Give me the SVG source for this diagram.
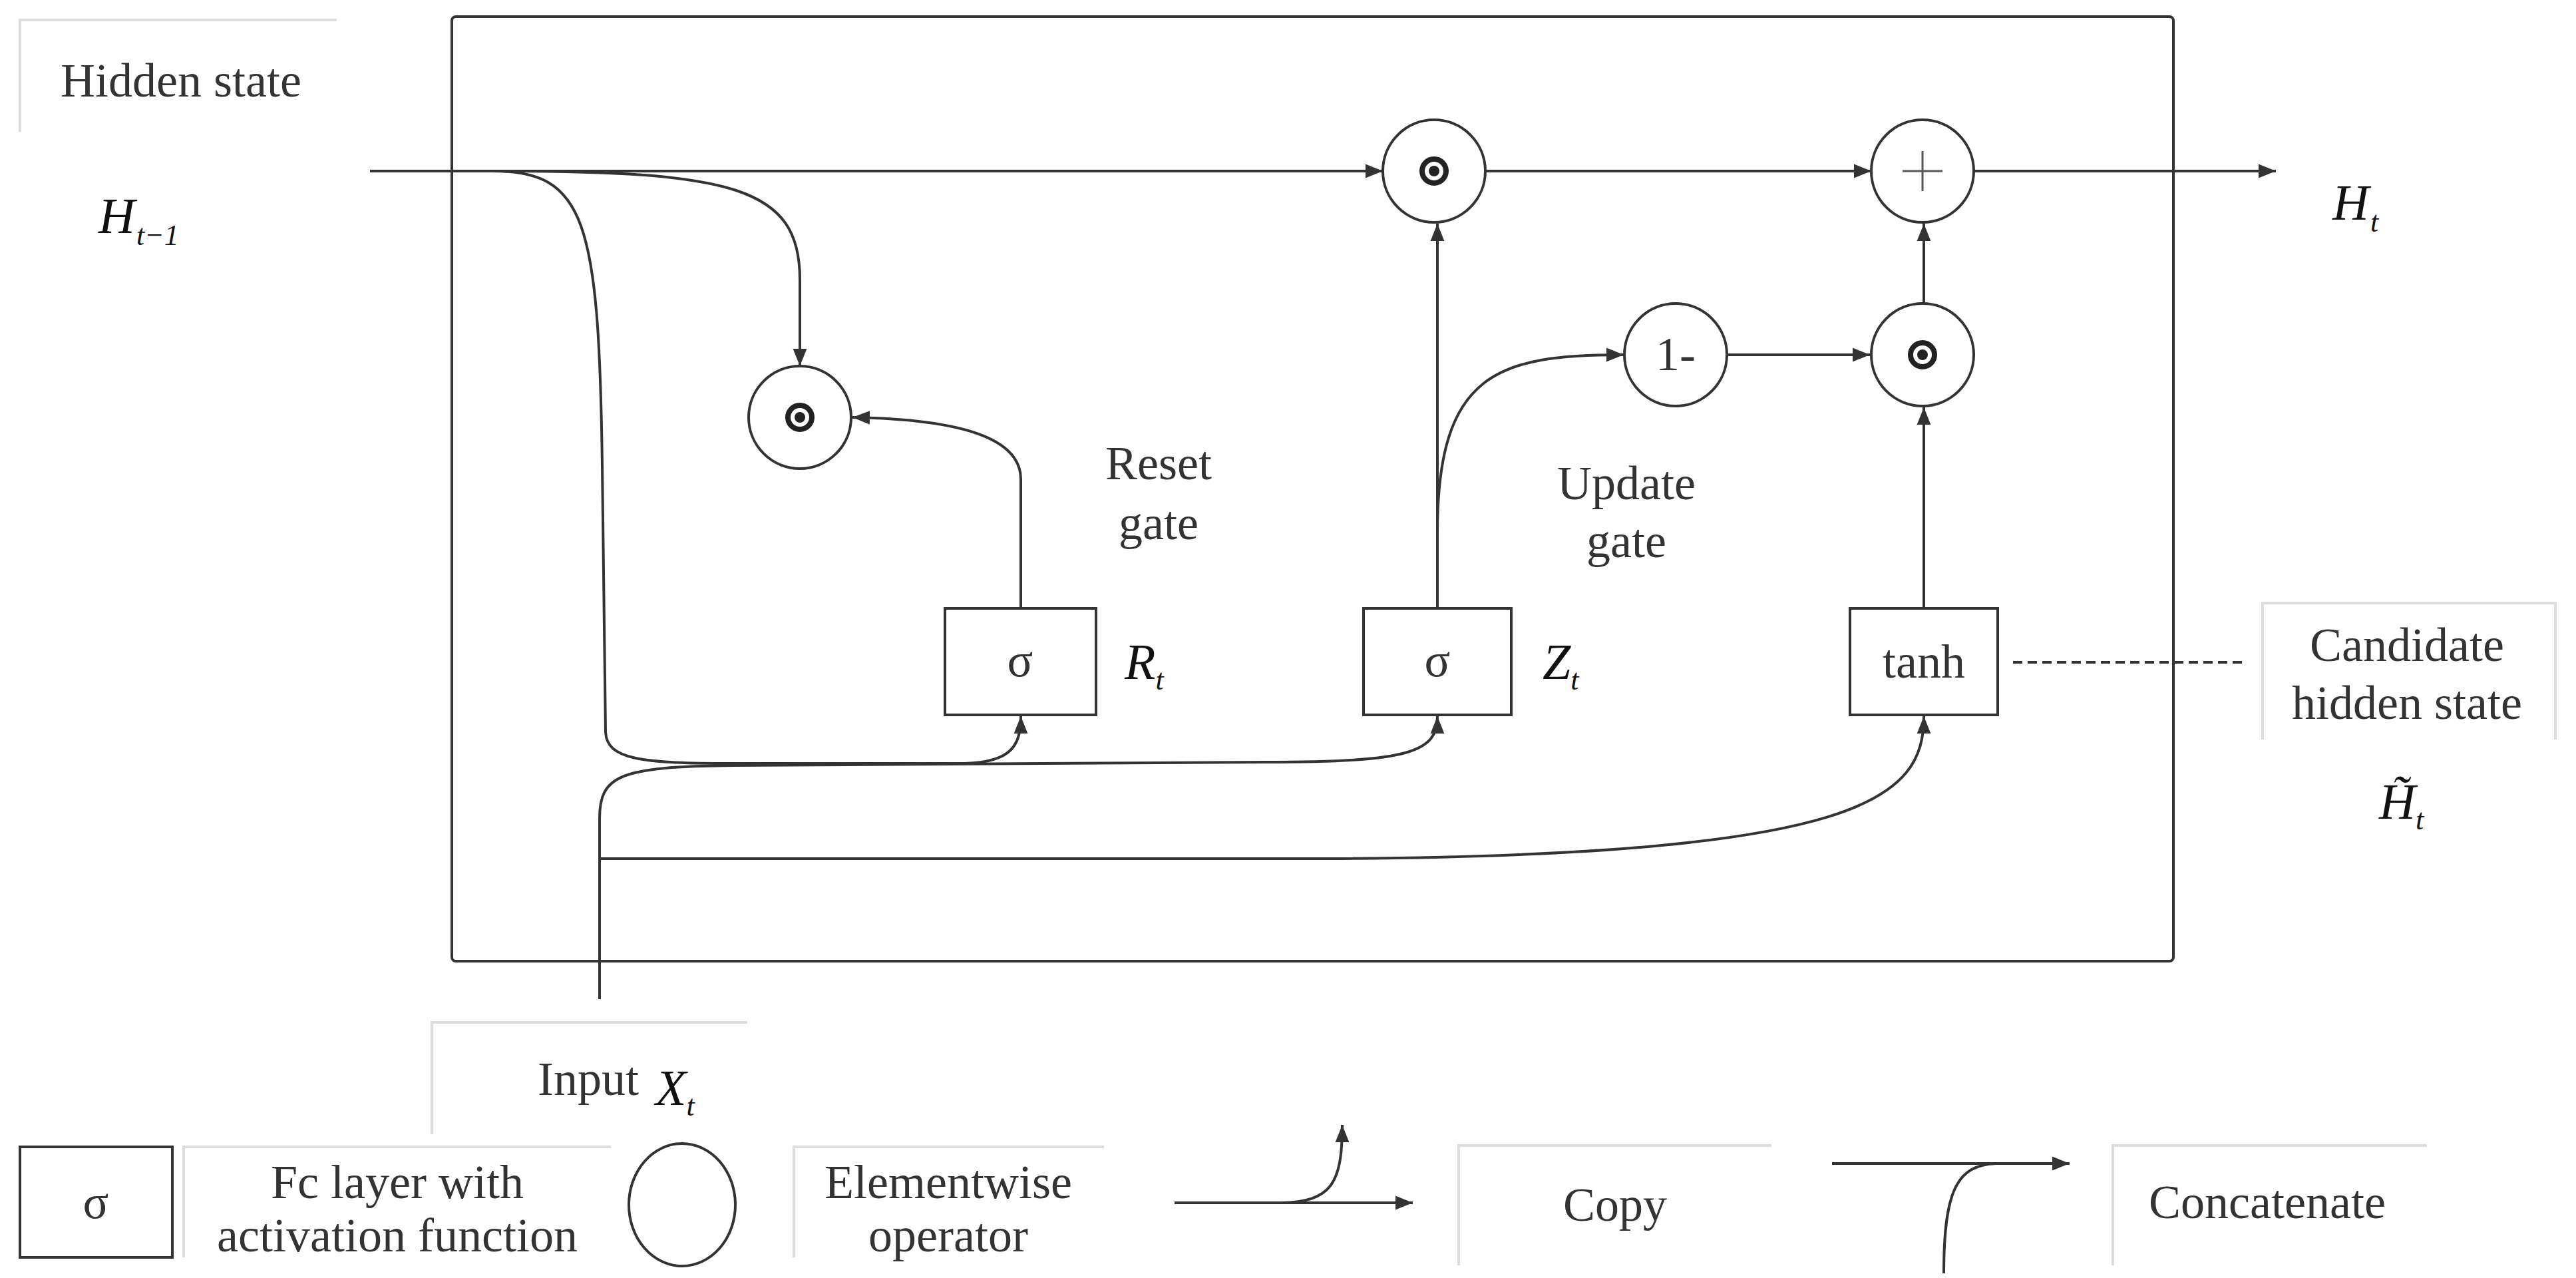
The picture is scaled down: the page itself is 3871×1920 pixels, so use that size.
<svg xmlns="http://www.w3.org/2000/svg" width="3871" height="1920" viewBox="0 0 3871 1920">
<style>
.t{font-family:"Liberation Serif",serif;font-size:72px;fill:#333;text-anchor:middle}
.m{font-family:"Liberation Serif",serif;font-style:italic;font-size:76px;fill:#111}
.s{font-size:44px}
.ln{fill:none;stroke:#333;stroke-width:4}
.nd{fill:#fff;stroke:#333;stroke-width:4}
.lb{fill:none;stroke:#ddd;stroke-width:4}
</style>
<defs>
<marker id="A" viewBox="0 0 10 10" refX="10" refY="5" markerWidth="26" markerHeight="26" markerUnits="userSpaceOnUse" orient="auto"><path d="M0,1 L10,5 L0,9 z" fill="#333"/></marker>
</defs>
<rect x="679" y="25" width="2587" height="1419" rx="6" fill="none" stroke="#333" stroke-width="4"/>
<g id="connectors">
<path class="ln" d="M556,257 H2078" marker-end="url(#A)"/>
<path class="ln" d="M2232,257 H2812" marker-end="url(#A)"/>
<path class="ln" d="M2966,257 H3420" marker-end="url(#A)"/>
<path class="ln" d="M740,257 C1100,257 1202,280 1202,420 V550" marker-end="url(#A)"/>
<path class="ln" d="M740,257 C880,257 900,330 905,700 L910,1100 C912,1140 960,1147 1100,1147 L1450,1147 C1520,1145 1534,1120 1534,1076" marker-end="url(#A)"/>
<path class="ln" d="M901,1501 V1230 C901,1165 930,1152 1100,1150 L1900,1145 C2120,1145 2160,1130 2160,1076" marker-end="url(#A)"/>
<path class="ln" d="M901,1290 L2000,1290 C2800,1285 2891,1200 2891,1076" marker-end="url(#A)"/>
<path class="ln" d="M2160,914 V336" marker-end="url(#A)"/>
<path class="ln" d="M2160,800 C2160,560 2250,533 2440,533" marker-end="url(#A)"/>
<path class="ln" d="M2595,533 H2810" marker-end="url(#A)"/>
<path class="ln" d="M2891,914 V612" marker-end="url(#A)"/>
<path class="ln" d="M2891,456 V336" marker-end="url(#A)"/>
<path class="ln" d="M1534,914 V720 C1534,660 1450,630 1281,627" marker-end="url(#A)"/>
<path d="M3025,995 H3370" fill="none" stroke="#333" stroke-width="4" stroke-dasharray="14,8"/>
</g>
<g id="hidden-label"><path class="lb" d="M30,198 V30 H506"/><text class="t" x="272" y="145">Hidden state</text></g>
<g id="h-prev"><text class="m" x="148" y="350">H<tspan class="s" dx="2" dy="18">t−1</tspan></text></g>
<g id="h-out"><text class="m" x="3505" y="330">H<tspan class="s" dx="2" dy="18">t</tspan></text></g>
<g id="mul-top"><circle class="nd" cx="2155" cy="257" r="77"/><circle cx="2155" cy="257" r="18" fill="none" stroke="#222" stroke-width="8"/><circle cx="2155" cy="257" r="8" fill="#222"/></g>
<g id="plus"><circle class="nd" cx="2889" cy="257" r="77"/><path d="M2889,227 V287 M2859,257 H2919" stroke="#555" stroke-width="3"/></g>
<g id="one-minus"><circle class="nd" cx="2518" cy="533" r="77"/><text class="t" x="2518" y="556" font-size="64">1-</text></g>
<g id="mul-mid"><circle class="nd" cx="2889" cy="533" r="77"/><circle cx="2889" cy="533" r="18" fill="none" stroke="#222" stroke-width="8"/><circle cx="2889" cy="533" r="8" fill="#222"/></g>
<g id="mul-reset"><circle class="nd" cx="1202" cy="627" r="77"/><circle cx="1202" cy="627" r="18" fill="none" stroke="#222" stroke-width="8"/><circle cx="1202" cy="627" r="8" fill="#222"/></g>
<g id="reset-gate"><rect class="nd" x="1420" y="914" width="227" height="160"/><text class="t" x="1533" y="1016" font-size="64">σ</text><text class="m" x="1690" y="1020" font-size="64">R<tspan class="s" dy="16">t</tspan></text><text class="t" x="1741" y="720">Reset</text><text class="t" x="1741" y="810">gate</text></g>
<g id="update-gate"><rect class="nd" x="2049" y="914" width="222" height="160"/><text class="t" x="2160" y="1016" font-size="64">σ</text><text class="m" x="2318" y="1020" font-size="64">Z<tspan class="s" dy="16">t</tspan></text><text class="t" x="2444" y="750">Update</text><text class="t" x="2444" y="837">gate</text></g>
<g id="tanh"><rect class="nd" x="2780" y="914" width="222" height="160"/><text class="t" x="2891" y="1018" font-size="68">tanh</text></g>
<g id="candidate"><path class="lb" d="M3400,1111 V906 H3840 V1111"/><text class="t" x="3617" y="993" font-size="78">Candidate</text><text class="t" x="3617" y="1080" font-size="78">hidden state</text><text class="m" x="3575" y="1230" font-size="64">H&#771;<tspan class="s" dy="16">t</tspan></text></g>
<g id="input"><path class="lb" d="M649,1704 V1536 H1123"/><text class="t" x="884" y="1645">Input</text><text class="m" x="985" y="1660" font-size="64">X<tspan class="s" dy="16">t</tspan></text></g>
<g id="legend">
<rect class="nd" x="30" y="1723" width="229" height="166"/><text class="t" x="144" y="1830" font-size="64">σ</text>
<path class="lb" d="M276,1889 V1723 H918"/><text class="t" x="597" y="1800">Fc layer with</text><text class="t" x="597" y="1880">activation function</text>
<ellipse class="nd" cx="1025" cy="1810" rx="80" ry="92"/>
<path class="lb" d="M1193,1889 V1723 H1659"/><text class="t" x="1425" y="1800">Elementwise</text><text class="t" x="1425" y="1880">operator</text>
<path class="ln" d="M1765,1807 H2123" marker-end="url(#A)"/>
<path class="ln" d="M1925,1807 C2000,1805 2017,1780 2017,1690" marker-end="url(#A)"/>
<path class="lb" d="M2192,1901 V1721 H2662"/><text class="t" x="2427" y="1834">Copy</text>
<path class="ln" d="M2753,1748 H3110" marker-end="url(#A)"/>
<path class="ln" d="M2921,1913 C2921,1790 2940,1750 3000,1748"/>
<path class="lb" d="M3175,1901 V1721 H3647"/><text class="t" x="3407" y="1830" font-size="60">Concatenate</text>
</g>
</svg>
